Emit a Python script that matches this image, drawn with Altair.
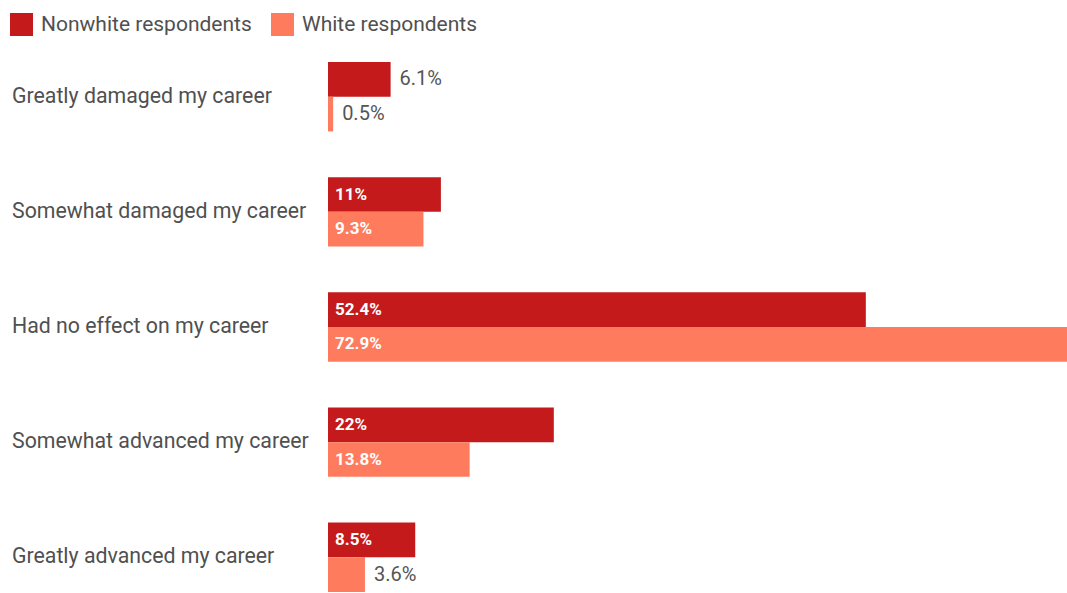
import altair as alt
import pandas as pd

categories = [
    "Greatly damaged my career",
    "Somewhat damaged my career",
    "Had no effect on my career",
    "Somewhat advanced my career",
    "Greatly advanced my career",
]
series = ["Nonwhite respondents", "White respondents"]
nonwhite = [6.1, 11, 52.4, 22, 8.5]
white = [0.5, 9.3, 72.9, 13.8, 3.6]
labels_nonwhite = ["6.1%", "11%", "52.4%", "22%", "8.5%"]
labels_white = ["0.5%", "9.3%", "72.9%", "13.8%", "3.6%"]
colors = ["#c41a1c", "#ff7b5e"]

rows = []
for i, c in enumerate(categories):
    rows.append({"category": c, "series": series[0], "value": nonwhite[i], "label": labels_nonwhite[i]})
    rows.append({"category": c, "series": series[1], "value": white[i], "label": labels_white[i]})
df = pd.DataFrame(rows)
df["inside"] = df["value"] >= 8

y = alt.Y("category:N", sort=categories, axis=None,
          scale=alt.Scale(paddingInner=0.397, paddingOuter=0))
yoff = alt.YOffset("series:N", sort=series,
                   scale=alt.Scale(paddingInner=0, paddingOuter=0))
xs = alt.Scale(domain=[0, 72], nice=False, zero=True)

base = alt.Chart(df)

bars = base.mark_bar(clip=True).encode(
    x=alt.X("value:Q", scale=xs, axis=None),
    y=y,
    yOffset=yoff,
    color=alt.Color(
        "series:N",
        scale=alt.Scale(domain=series, range=colors),
        legend=alt.Legend(
            title=None,
            orient="none",
            legendX=-318,
            legendY=-49,
            direction="horizontal",
            symbolType="square",
            symbolSize=529,
            symbolStrokeWidth=0,
            symbolOpacity=1,
            labelFontSize=21,
            labelFont="Roboto",
            labelColor="#505050",
            labelOffset=8,
            labelLimit=0,
            columnPadding=19,
            padding=0,
        ),
    ),
)

inside = base.transform_filter("datum.inside").mark_text(
    align="left", baseline="middle", dx=7, font="Roboto",
    fontWeight="bold", fontSize=17, color="white"
).encode(x=alt.value(0), y=y, yOffset=yoff, text="label:N")

outside = base.transform_filter("!datum.inside").mark_text(
    align="left", baseline="middle", dx=9, font="Roboto",
    fontSize=20, color="#555555"
).encode(x=alt.X("value:Q", scale=xs), y=y, yOffset=yoff, text="label:N")

cats = base.transform_filter(alt.datum.series == series[0]).mark_text(
    align="left", baseline="middle", font="Roboto", fontSize=21.3, color="#505050"
).encode(x=alt.value(-316), y=y, text="category:N")

chart = alt.layer(bars, inside, outside, cats).properties(
    width=739,
    height=530,
    padding={"left": 328, "top": 62, "right": 0, "bottom": 0},
    autosize="none",
    background="white",
).configure_view(stroke=None)

chart.save("out.html", embed_options={"renderer": "svg", "actions": False})
